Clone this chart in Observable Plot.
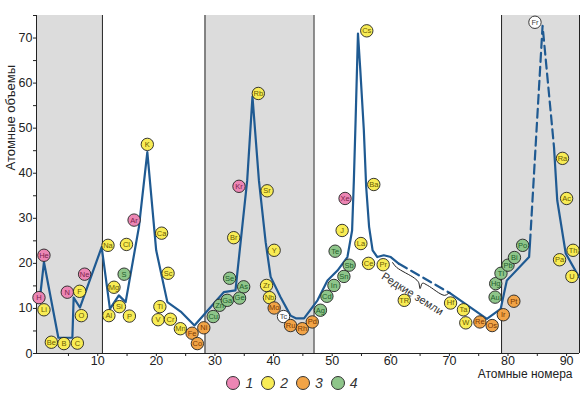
<!DOCTYPE html>
<html><head><meta charset="utf-8">
<script src="https://cdn.jsdelivr.net/npm/d3@7"></script>
<script src="https://cdn.jsdelivr.net/npm/@observablehq/plot@0.6"></script>
<style>
body{margin:0;background:#fff;font-family:"Liberation Sans",Arial,sans-serif;}
#chart svg{display:block}
#legend{display:flex;justify-content:center;align-items:center;height:16px;margin-top:-7px;font-style:italic;font-size:14px;color:#333;position:relative}
.item{display:flex;align-items:center;margin:0 4px}
.sw{width:12px;height:12px;border-radius:50%;border:1px solid #333;margin-right:5px}
</style></head><body>
<div id="chart"></div>
<div id="legend"></div>
<script>
// axes
const xDomain = [-0.45, 92.2];
const yDomain = [0, 75];
const xTicks = [5,10,15,20,25,30,35,40,45,50,55,60,65,70,75,80,85,90];
const yTicks = [0,5,10,15,20,25,30,35,40,45,50,55,60,65,70,75];
// shaded bands (atomic number ranges)
const bandFrom = [-0.45, 28.3, 78.9];
const bandTo = [10.8, 46.9, 92.2];
// curve of atomic volume vs atomic number
const lineNum = [0.25,0.82,3.28,5.67,5.89,6.96,10.67,12.08,13.6,14.76,17.03,18.46,19.97,21.88,24.15,26.5,31.5,33.5,35.5,36.4,37.5,38.65,39.5,41.2,42.9,43.8,45.2,47.5,49.2,50.9,52.6,53.4,53.7,54.0,54.4,54.8,55.4,55.8,56.3,56.9,57.7,58.8,60.0,61.4,
  61.4,70.1,
  70.1,76.4,78.75,79.8,83.6,83.75,
  83.75,85.9,87.85,
  87.85,88.4,89.85,92.1];
const lineVol = [13.6,20.3,3.5,3.5,12.4,10.2,23.6,9.9,12.9,11.4,28.1,44.7,22.9,11.4,9.3,6.2,13.6,14,38.4,57,38.4,24.7,17,12.5,8.4,7.8,7.8,11.8,16.2,18.4,21.4,27.3,38.4,51.8,71,62.9,49.6,37,28.1,22.9,21.4,21.8,21.4,19.9,
  19.9,13.4,
  13.4,7.7,9.9,16.2,21.4,24.4,
  24.4,72.7,45.8,
  45.8,34,22.2,17];
const segLengths = [44, 2, 6, 3, 4];
const segNames = ["a","b","c","d","e"];
const segDashed = [false, true, false, true, false];
// brace under the rare-earth section
const braceNum = [60.3,61.0,64.06,64.74,65.0,65.4,66.3,69.2,70.05];
const braceVol = [20.2,19.1,16.7,15.8,14.4,15.6,15.1,12.9,13.6];
const rareLabel = "Редкие земли";
const rareNum = 63.7, rareVol = 13.2;
// element circles
const elName = ["H","He","Li","Be","B","C","N","F","O","Ne","Na","Mg","Al","Si","P","S","Cl","Ar","K","Ca","Sc","Ti","V","Cr","Mn","Fe","Co","Ni","Cu","Zn","Ga","Ge","As","Se","Br","Kr","Rb","Sr","Y","Zr","Nb","Mo","Tc","Ru","Rh","Pd","Ag","Cd","In","Sn","Sb","Te","J","Xe","Cs","Ba","La","Ce","Pr","TR","Hf","Ta","W","Re","Os","Ir","Pt","Au","Hg","Tl","Pb","Bi","Po","Fr","Ra","Ac","Th","Pa","U"];
const elX = [-0.03,0.82,0.82,2.08,4.23,6.52,4.8,6.91,7.2,7.76,11.75,12.77,11.9,13.7,15.4,14.5,14.9,16.2,18.46,20.9,22.0,20.6,20.3,22.4,24.1,26.1,27.0,28.1,29.7,30.8,32.1,34.2,34.9,32.5,33.2,34.1,37.4,38.9,40.1,38.8,39.3,40.1,41.7,42.9,44.9,46.6,48.0,49.1,50.3,52.0,52.9,50.5,51.7,52.2,55.9,57.1,54.9,56.2,58.7,62.3,70.2,72.4,72.8,75.2,77.3,79.2,81.0,77.8,77.9,78.8,80.0,81.1,82.5,84.6,89.3,90.0,91.1,88.8,90.9];
const elY = [12.4,21.8,9.7,2.5,2.2,2.3,13.6,13.8,8.4,17.6,24.0,14.7,8.4,10.4,8.3,17.6,24.2,29.6,46.4,26.7,17.8,10.4,7.5,7.6,5.5,4.5,2.2,5.7,8.2,10.7,11.8,12.3,14.8,16.7,25.7,37.1,57.7,36.1,22.9,15.1,12.4,10.1,8.2,6.2,5.5,7.0,9.6,12.7,15.1,17.1,19.6,22.7,27.3,34.4,71.6,37.5,24.4,20.0,19.7,11.8,11.2,9.7,6.8,7.0,6.2,8.6,11.6,12.5,15.5,17.8,19.6,21.3,24.0,73.5,43.3,34.4,22.9,20.8,17.1];
const elGroup = ["1","1","2","2","2","2","1","2","2","1","2","2","2","2","2","4","2","1","2","2","2","2","2","2","2","3","3","3","4","4","4","4","4","4","2","1","2","2","2","2","2","3","w","3","3","3","4","4","4","4","4","4","2","1","2","2","2","2","2","2","2","2","2","3","3","3","3","4","4","4","4","4","4","w","2","2","2","2","2"];
// groups
const groupKeys = ["1","2","3","4","w"];
const groupFill = ["#ec86b4","#f8ec55","#f2a447","#8ec58a","#ffffff"];
const groupText = ["#7b1f4c","#6b5b00","#7a3800","#22602a","#444444"];
const legendKeys = ["1","2","3","4"];
const xLabel = "Атомные номера";
const yLabel = "Атомные объемы";

const lineColor = "#1f5a92";
const bands = bandFrom.map((a, i) => ({x1: a, x2: bandTo[i], y1: yDomain[0], y2: yDomain[1]}));
const edges = [bandTo[0], bandFrom[1], bandTo[1], bandFrom[2], bandTo[2]].map(x => ({x, y1: yDomain[0], y2: yDomain[1]}));
const segOf = [];
segLengths.forEach((n, i) => { for (let k = 0; k < n; k++) segOf.push(i); });
const curve = lineNum.map((x, i) => ({x, y: lineVol[i], seg: segNames[segOf[i]], dashed: segDashed[segOf[i]]}));
const brace = braceNum.map((x, i) => ({x, y: braceVol[i]}));
const els = elName.map((n, i) => ({n, x: elX[i], y: elY[i], g: elGroup[i]}));
const txtCol = g => groupText[groupKeys.indexOf(g)];

const chart = Plot.plot({
  width: 584, height: 382,
  marginLeft: 36, marginRight: 5, marginTop: 15, marginBottom: 29,
  style: {fontFamily: "Liberation Sans, Arial, sans-serif", fontSize: "12.5px", color: "#222", background: "white"},
  x: {domain: xDomain, ticks: xTicks, tickFormat: d => d % 10 === 0 ? String(d) : "", tickSize: 3, tickPadding: 0, label: null},
  y: {domain: yDomain, ticks: yTicks, tickFormat: d => d % 10 === 0 && d <= 70 ? String(d) : "", tickSize: 3, tickPadding: 1, label: null},
  color: {domain: groupKeys, range: groupFill},
  marks: [
    Plot.rect(bands, {x1: "x1", x2: "x2", y1: "y1", y2: "y2", fill: "#dcdcdc"}),
    Plot.ruleX(edges, {x: "x", y1: "y1", y2: "y2", stroke: "#222", strokeWidth: 1}),
    Plot.ruleX([{x: xDomain[0], y1: yDomain[0], y2: yDomain[1]}], {x: "x", y1: "y1", y2: "y2", stroke: "#222", strokeWidth: 1}),
    Plot.ruleY([{y: yDomain[0], x1: xDomain[0], x2: xDomain[1]}], {y: "y", x1: "x1", x2: "x2", stroke: "#222", strokeWidth: 1}),
    Plot.line(curve.filter(d => !d.dashed), {x: "x", y: "y", z: "seg", stroke: lineColor, strokeWidth: 2.2, strokeLinejoin: "round"}),
    Plot.line(curve.filter(d => d.dashed), {x: "x", y: "y", z: "seg", stroke: lineColor, strokeWidth: 2.2, strokeDasharray: "9,5"}),
    Plot.line(brace, {x: "x", y: "y", stroke: "#222", strokeWidth: 1, curve: "catmull-rom"}),
    Plot.text([rareLabel], {x: () => rareNum, y: () => rareVol, text: d => d, rotate: 32, fontSize: 11, fill: "#333"}),
    Plot.dot(els, {x: "x", y: "y", r: 6.2, fill: "g", stroke: "#222", strokeWidth: 0.9}),
    Plot.text(els, {x: "x", y: "y", text: "n", fill: d => txtCol(d.g), fontSize: 7.5}),
    Plot.text([yLabel], {frameAnchor: "left", dx: -26, dy: -14, rotate: -90, text: d => d, fontSize: 13, fill: "#222"}),
    Plot.text([xLabel], {frameAnchor: "bottom-right", textAnchor: "end", dx: -7, dy: 24, text: d => d, fontSize: 12, fill: "#222"})
  ]
});
document.getElementById("chart").appendChild(chart);

const lg = document.getElementById("legend");
legendKeys.forEach(k => {
  const it = document.createElement("div"); it.className = "item";
  const sw = document.createElement("div"); sw.className = "sw";
  sw.style.background = groupFill[groupKeys.indexOf(k)];
  const t = document.createElement("span"); t.textContent = k;
  it.appendChild(sw); it.appendChild(t); lg.appendChild(it);
});
</script>
</body></html>
